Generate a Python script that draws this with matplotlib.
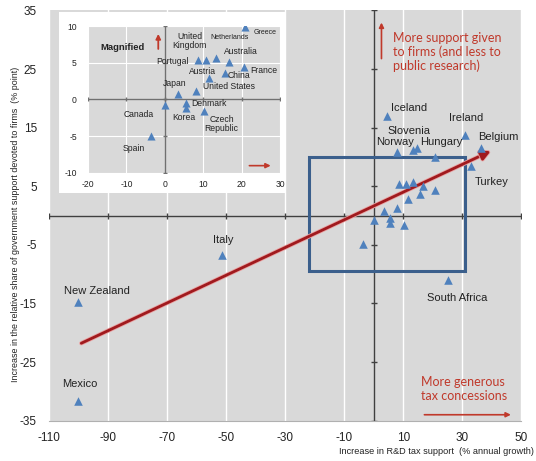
import numpy as np
import matplotlib
matplotlib.use("Agg")
import matplotlib.pyplot as plt  # noqa: E402
from matplotlib.patches import Rectangle  # noqa: E402
import matplotlib.patheffects as pe  # noqa: E402

# ---- data ----------------------------------------------------------------
countries = ["Greece", "Portugal", "United Kingdom", "Netherlands", "Australia",
             "France", "China", "United States", "Austria", "Japan", "Denmark",
             "Korea", "Czech Republic", "Canada", "Spain", "South Africa",
             "Turkey", "Belgium", "Ireland", "Iceland", "Norway", "Slovenia",
             "Hungary", "Italy", "New Zealand", "Mexico"]
tax_growth = [20.8, 8.6, 10.8, 13.4, 16.8, 20.6, 15.6, 11.5, 8.0, 3.4, 5.5,
              5.5, 10.1, 0.0, -3.6, 25.0, 32.9, 36.3, 30.9, 4.4, 7.7, 13.4,
              14.5, -51.4, -100.2, -100.2]
share_change = [9.9, 5.4, 5.4, 5.7, 5.1, 4.4, 3.6, 2.9, 1.2, 0.8, -0.5,
                -1.2, -1.6, -0.8, -4.9, -11.0, 8.5, 11.5, 13.7, 17.0, 10.9, 11.2,
                11.5, -6.7, -14.8, -31.6]

trend_x = [-100.0, 40.5]
trend_y = [-22.0, 11.2]

xticks = np.arange(-110, 51, 20)
yticks = np.arange(-35, 36, 10)
inset_xticks = np.arange(-20, 31, 10)
inset_yticks = np.arange(-10, 11, 5)

# magnified region drawn as a box on the main chart
box_x = (-22.0, 30.9)
box_y = (-9.5, 9.9)

# ---- label placement ------------------------------------------------------
main_labels = {
    "Iceland": (12.1, 18.3), "Ireland": (31.3, 16.6), "Slovenia": (11.8, 14.5),
    "Norway": (7.2, 12.6), "Hungary": (22.9, 12.6), "Belgium": (42.1, 13.4),
    "Turkey": (39.9, 5.8), "South Africa": (28.2, -14.0), "Italy": (-51.0, -4.1),
    "New Zealand": (-93.8, -12.8), "Mexico": (-99.8, -28.8),
}
inset_labels = {
    "Greece": (26.0, 9.1, 5.0), "Netherlands": (16.8, 8.5, 5.0),
    "United\nKingdom": (6.5, 8.0, 6.2), "Australia": (19.7, 6.5, 6.2),
    "Portugal": (2.1, 5.2, 6.2), "France": (25.8, 4.0, 6.2),
    "Austria": (9.9, 3.8, 6.2), "China": (19.2, 3.2, 6.2),
    "United States": (16.8, 1.8, 6.2), "Japan": (2.5, 2.2, 6.2),
    "Denmark": (11.6, -0.5, 6.2), "Canada": (-6.7, -2.1, 6.2),
    "Korea": (4.9, -2.5, 6.2), "Czech\nRepublic": (14.8, -3.4, 6.2),
    "Spain": (-8.0, -6.6, 6.2),
}

FONT = ["Liberation Sans", "DejaVu Sans"]
RED = "#c0392b"
DARK_RED = "#a01a1e"
BLUE = "#4f81bd"
BG = "#d9d9d9"
AXIS = "#404040"

plt.rcParams["font.family"] = FONT
plt.rcParams["axes.unicode_minus"] = False

fig = plt.figure(figsize=(5.36, 4.61), dpi=100)

# ---- main chart -----------------------------------------------------------
ax = fig.add_axes([49.3 / 536, 1 - 420.6 / 461, 472 / 536, 410.2 / 461])
ax.set_facecolor(BG)
ax.set_xlim(-110, 50)
ax.set_ylim(-35, 35)
ax.set_xticks(xticks)
ax.set_yticks(yticks)
ax.tick_params(length=0, labelsize=8.5, colors="#222222")
ax.tick_params(axis="x", pad=8)
ax.tick_params(axis="y", pad=9)
ax.grid(axis="x", color="white", lw=1.0)
ax.set_axisbelow(True)
for s in ["top", "right", "left"]:
    ax.spines[s].set_visible(False)
ax.spines["bottom"].set_color("#b0b0b0")

ax.axhline(0, color=AXIS, lw=1.0, zorder=2)
ax.axvline(0, color=AXIS, lw=1.0, zorder=2)
ax.plot(xticks, np.zeros(len(xticks)), ls="none", marker="|", ms=4, color=AXIS, zorder=2)
ax.plot(np.zeros(len(yticks)), yticks, ls="none", marker="_", ms=4, color=AXIS, zorder=2)

ax.add_patch(Rectangle((box_x[0], box_y[0]), box_x[1] - box_x[0], box_y[1] - box_y[0],
                       fill=False, edgecolor="#3b5f8c", lw=2.2, zorder=3))

ax.annotate("", xy=(trend_x[1], trend_y[1]), xytext=(trend_x[0], trend_y[0]),
            arrowprops=dict(arrowstyle="-|>", color=DARK_RED, lw=2.0, mutation_scale=14,
                            path_effects=[pe.withStroke(linewidth=3.2, foreground="#e9a3a3")]),
            zorder=4)

ax.scatter(tax_growth, share_change, marker="^", s=38, color=BLUE, zorder=5, linewidths=0)

for name, (lx, ly) in main_labels.items():
    ax.text(lx, ly, name, ha="center", va="center", fontsize=8, color="#222222", zorder=6)

# red annotations
ax.annotate("", xy=(2.6, 33.4), xytext=(2.6, 26.3),
            arrowprops=dict(arrowstyle="-|>", color=RED, lw=1.2, mutation_scale=7))
ax.text(6.4, 31.3, "More support given\nto firms (and less to\npublic research)",
        ha="left", va="top", fontsize=9, color=RED, family="Lato", linespacing=1.15)
ax.text(16.0, -27.4, "More generous\ntax concessions", ha="left", va="top",
        fontsize=9, color=RED, family="Lato", linespacing=1.15)
ax.annotate("", xy=(47.4, -34.0), xytext=(16.2, -34.0),
            arrowprops=dict(arrowstyle="-|>", color=RED, lw=1.2, mutation_scale=7))

fig.text(0.028, 0.514,
         "Increase in the relative share of government support devoted to firms  (% point)",
         rotation=90, ha="center", va="center", fontsize=6.4, color="#222222")
fig.text(534 / 536, 0.02, "Increase in R&D tax support  (% annual growth)",
         ha="right", va="center", fontsize=6.6, color="#222222")

# ---- inset (magnified) ----------------------------------------------------
fig.patches.append(Rectangle((59 / 536, 1 - 193 / 461), 226 / 536, 181 / 461,
                             transform=fig.transFigure, facecolor="white",
                             edgecolor="none", zorder=10))

ins = fig.add_axes([88 / 536, 1 - 173 / 461, 192 / 536, 147 / 461], zorder=11)
ins.set_facecolor(BG)
ins.set_xlim(-20, 30)
ins.set_ylim(-10, 10)
ins.set_xticks(inset_xticks)
ins.set_yticks(inset_yticks)
ins.tick_params(length=0, labelsize=6.2, colors="#222222")
ins.tick_params(axis="x", pad=5)
ins.tick_params(axis="y", pad=8)
ins.grid(color="white", lw=0.8)
ins.set_axisbelow(True)
for s in ins.spines.values():
    s.set_visible(False)
ins.axhline(0, color="#707070", lw=1.0, zorder=2)
ins.axvline(0, color="#707070", lw=1.0, zorder=2)
ins.plot(inset_xticks, np.zeros(len(inset_xticks)), ls="none", marker="|", ms=3,
         color="#707070", zorder=2)
ins.plot(np.zeros(len(inset_yticks)), inset_yticks, ls="none", marker="_", ms=3,
         color="#707070", zorder=2)

ins.scatter(tax_growth, share_change, marker="^", s=34, color=BLUE, zorder=5, linewidths=0)

for name, (lx, ly, fs) in inset_labels.items():
    ins.text(lx, ly, name, ha="center", va="center", fontsize=fs, color="#222222",
             zorder=6, linespacing=1.0)
ins.text(-11.0, 7.1, "Magnified", ha="center", va="center", fontsize=6.8,
         fontweight="bold", color="#222222")

ins.annotate("", xy=(-1.7, 9.3), xytext=(-1.7, 6.5),
             arrowprops=dict(arrowstyle="-|>", color=RED, lw=1.3, mutation_scale=7))
ins.annotate("", xy=(28.3, -9.0), xytext=(21.3, -9.0),
             arrowprops=dict(arrowstyle="-|>", color=RED, lw=1.2, mutation_scale=7))

fig.savefig("out.png", dpi=100)
